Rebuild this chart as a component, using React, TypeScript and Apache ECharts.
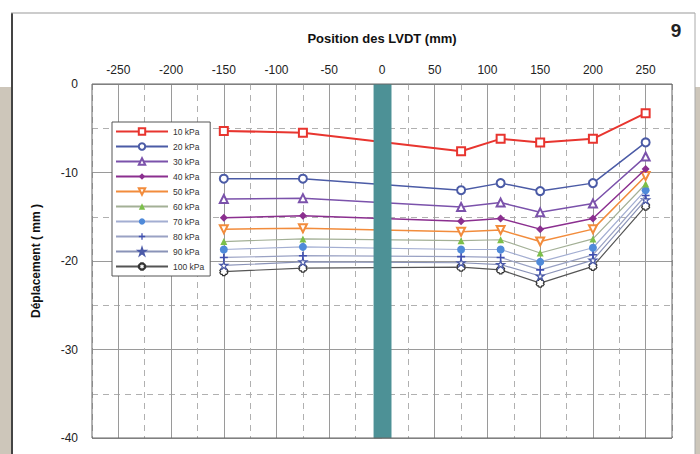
import React, { useEffect, useRef } from "react";
import * as echarts from "echarts";

const positions = [-150, -75, 75, 112.5, 150, 200, 250];
const loadNames = ["10 kPa", "20 kPa", "30 kPa", "40 kPa", "50 kPa", "60 kPa", "70 kPa", "80 kPa", "90 kPa", "100 kPa"];
const s10 = [-5.3, -5.5, -7.6, -6.2, -6.6, -6.2, -3.3];
const s20 = [-10.7, -10.7, -12.0, -11.2, -12.1, -11.2, -6.6];
const s30 = [-13.0, -12.9, -13.9, -13.4, -14.5, -13.5, -8.2];
const s40 = [-15.1, -14.9, -15.5, -15.2, -16.4, -15.2, -9.6];
const s50 = [-16.4, -16.3, -16.7, -16.5, -17.8, -16.4, -10.4];
const s60 = [-17.8, -17.5, -17.7, -17.6, -19.1, -17.5, -11.3];
const s70 = [-18.7, -18.4, -18.7, -18.7, -20.1, -18.5, -12.0];
const s80 = [-19.6, -19.4, -19.5, -19.6, -21.0, -19.3, -12.6];
const s90 = [-20.5, -20.1, -20.2, -20.4, -21.7, -19.9, -13.1];
const s100 = [-21.2, -20.8, -20.7, -21.0, -22.5, -20.6, -13.8];
const allSeries = [s10, s20, s30, s40, s50, s60, s70, s80, s90, s100];
const sensorBand = [-8, 9];

const FONT = "Liberation Sans, Arial, sans-serif";

const PLUS = "path://M4,0H6V4H10V6H6V10H4V6H0V4H4Z";
const STAR = "path://M5,0L6.2,3.6L10,3.6L6.9,5.8L8.1,9.5L5,7.2L1.9,9.5L3.1,5.8L0,3.6L3.8,3.6Z";
const GEAR = "path://M3.5,0H6.5L7,1.5L8.5,1.5L10,3.5L9,5L10,6.5L8.5,8.5L7,8.5L6.5,10H3.5L3,8.5L1.5,8.5L0,6.5L1,5L0,3.5L1.5,1.5L3,1.5Z";

const styles = [
  { line: "#e8352f", sym: "emptyRect", color: "#e8352f", width: 2, size: 8, rot: 0, fill: null },
  { line: "#4b5ba6", sym: "emptyCircle", color: "#4b5ba6", width: 1.5, size: 8, rot: 0, fill: null },
  { line: "#7b52ab", sym: "emptyTriangle", color: "#7b52ab", width: 1.5, size: 8, rot: 0, fill: null },
  { line: "#8b2f8f", sym: "diamond", color: "#8b2f8f", width: 1.5, size: 8, rot: 0, fill: null },
  { line: "#f28c3c", sym: "emptyTriangle", color: "#f28c3c", width: 1.5, size: 8, rot: 180, fill: null },
  { line: "#a3b096", sym: "triangle", color: "#7cbf4a", width: 1.2, size: 7, rot: 0, fill: null },
  { line: "#a3aed2", sym: "circle", color: "#4f8ad9", width: 1.2, size: 8, rot: 0, fill: null },
  { line: "#9aa2c4", sym: PLUS, color: "#3f4fb0", width: 1.2, size: 8, rot: 0, fill: null },
  { line: "#8a93b8", sym: STAR, color: "#ffffff", width: 1.2, size: 8, rot: 0, fill: "#4b5aa8" },
  { line: "#555555", sym: GEAR, color: "#ffffff", width: 1.2, size: 8, rot: 0, fill: "#333333" },
];

export default function App() {
  const ref = useRef<HTMLDivElement>(null);
  useEffect(() => {
    if (!ref.current) return;
    const chart = echarts.init(ref.current, null, { renderer: "svg" });
    const series: any[] = allSeries.map((vals, i) => {
      const st = styles[i];
      const itemStyle: any = { color: st.color };
      if (st.fill) {
        itemStyle.borderColor = st.fill;
        itemStyle.borderWidth = 1.2;
      }
      return {
        name: loadNames[i],
        type: "line",
        data: positions.map((x, j) => [x, vals[j]]),
        symbol: st.sym,
        symbolSize: st.size,
        symbolRotate: st.rot,
        showAllSymbol: true,
        lineStyle: { color: st.line, width: st.width },
        itemStyle,
        z: 20 - i,
      };
    });
    series.push({
      name: "band",
      type: "line",
      data: [],
      xAxisIndex: 0,
      yAxisIndex: 0,
      markArea: {
        silent: true,
        z: 30,
        itemStyle: { color: "#4d9196", opacity: 1 },
        data: [[{ xAxis: sensorBand[0] }, { xAxis: sensorBand[1] }]],
      },
    });

    chart.setOption({
      animation: false,
      backgroundColor: "#ffffff",
      textStyle: { fontFamily: FONT },
      grid: {
        left: 92,
        right: 28,
        top: 84,
        bottom: 16,
        show: true,
        borderColor: "#666",
        borderWidth: 1,
        backgroundColor: "transparent",
        z: 40,
      },
      graphic: [
        { type: "rect", shape: { x: 0, y: 87, width: 11, height: 370 }, style: { fill: "#cdc6ba" }, z: -10 },
        { type: "rect", shape: { x: 695, y: 87, width: 5, height: 370 }, style: { fill: "#cdc6ba" }, z: -10 },
        { type: "line", shape: { x1: 12, y1: 13, x2: 12, y2: 454 }, style: { stroke: "#444", lineWidth: 2 }, z: -5 },
        { type: "line", shape: { x1: 11, y1: 13, x2: 695, y2: 13 }, style: { stroke: "#999", lineWidth: 1 }, z: -5 },
        { type: "line", shape: { x1: 695, y1: 13, x2: 695, y2: 454 }, style: { stroke: "#aaa", lineWidth: 1 }, z: -5 },
        {
          type: "text",
          x: 676,
          y: 30,
          style: { text: "9", font: "bold 19px " + FONT, fill: "#222", align: "center", verticalAlign: "middle" },
        },
      ],
      legend: {
        orient: "vertical",
        left: 112,
        top: 122,
        data: loadNames,
        itemWidth: 52,
        itemHeight: 8,
        itemGap: 6,
        padding: [5, 6, 5, 3],
        backgroundColor: "#ffffff",
        borderColor: "#555",
        borderWidth: 1,
        borderRadius: 0,
        textStyle: { fontSize: 8.5, lineHeight: 9, color: "#333", fontFamily: FONT },
        z: 50,
      },
      xAxis: [
        {
          type: "value",
          position: "top",
          min: -275,
          max: 275,
          interval: 25,
          name: "Position des LVDT (mm)",
          nameLocation: "middle",
          nameGap: 39,
          nameTextStyle: { fontWeight: "bold", fontSize: 13, color: "#111", fontFamily: FONT },
          axisLine: { show: false },
          axisTick: { show: false },
          axisLabel: {
            margin: 8,
            fontSize: 12,
            color: "#222",
            fontFamily: FONT,
            formatter: (v: number) => (v % 50 === 0 && Math.abs(v) <= 250 ? String(v) : ""),
          },
          splitLine: { show: true, lineStyle: { color: ["transparent", "#9a9a9a"], width: 1 } },
        },
        {
          type: "value",
          position: "top",
          min: -275,
          max: 275,
          interval: 25,
          axisLine: { show: false },
          axisTick: { show: false },
          axisLabel: { show: false },
          splitLine: { show: true, lineStyle: { color: ["#b0b0b0", "transparent"], width: 1, type: [6, 5] } },
        },
      ],
      yAxis: [
        {
          type: "value",
          position: "left",
          min: -40,
          max: 0,
          interval: 5,
          name: "Déplacement ( mm )",
          nameLocation: "middle",
          nameGap: 50,
          nameTextStyle: { fontWeight: "bold", fontSize: 12, color: "#111", fontFamily: FONT },
          axisLine: { show: false },
          axisTick: { show: true, length: 8, lineStyle: { color: "#888" } },
          axisLabel: {
            margin: 14,
            fontSize: 12,
            color: "#222",
            fontFamily: FONT,
            formatter: (v: number) => (v % 10 === 0 ? String(v) : ""),
          },
          splitLine: { show: true, lineStyle: { color: ["#9a9a9a", "transparent"], width: 1 } },
        },
        {
          type: "value",
          position: "left",
          min: -40,
          max: 0,
          interval: 5,
          axisLine: { show: false },
          axisTick: { show: false },
          axisLabel: { show: false },
          splitLine: { show: true, lineStyle: { color: ["transparent", "#b0b0b0"], width: 1, type: [6, 5] } },
        },
      ],
      series,
    });
    return () => chart.dispose();
  }, []);
  return (
    <div style={{ position: "absolute", left: 0, top: 0, width: 700, height: 454, background: "#fff" }}>
      <div ref={ref} style={{ width: 700, height: 454 }} />
    </div>
  );
}
